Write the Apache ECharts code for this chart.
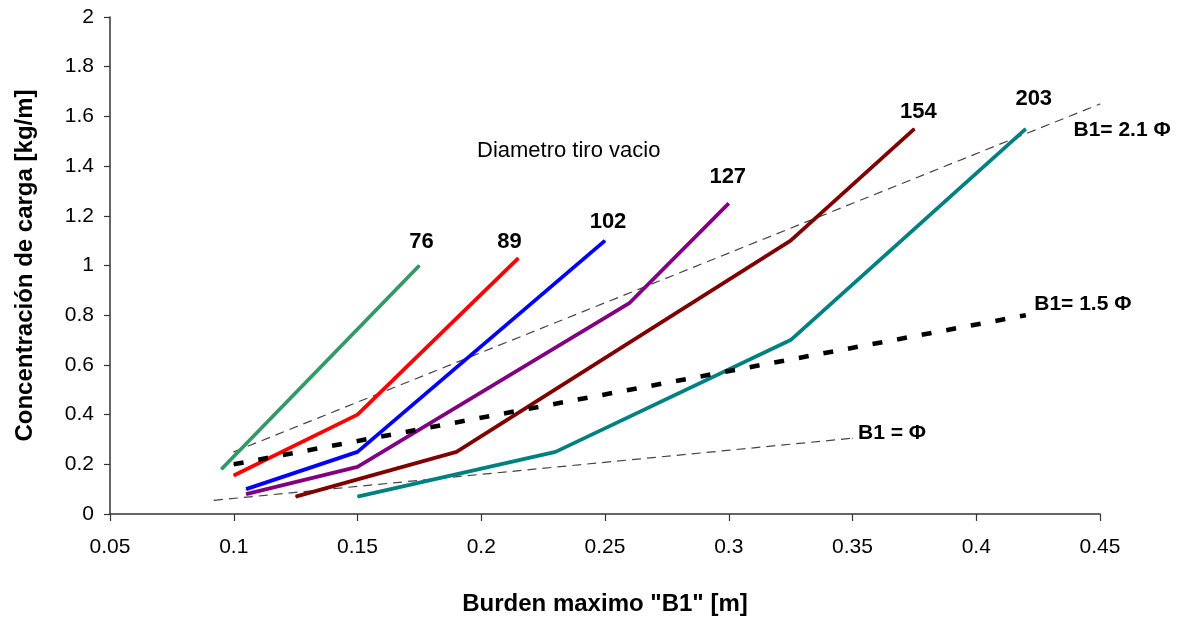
<!DOCTYPE html>
<html>
<head>
    <meta charset="UTF-8">
    <title></title>
    <style type="text/css">
        html, body { margin: 0; padding: 0; background: #fff; }
        #main1 { width: 1188px; height: 617px; }
    </style>
</head>
<body>
<div id="main1"></div>
<script type="text/javascript" src="https://cdn.jsdelivr.net/npm/echarts@6/dist/echarts.min.js"></script>
<script type="text/javascript">
    // diametro tiro vacio (mm): burden [m] vs concentracion [kg/m]
    var x76 = [0.095, 0.175];
    var y76 = [0.18, 1.0];
    var x89 = [0.1, 0.15, 0.215];
    var y89 = [0.155, 0.4, 1.03];
    var x102 = [0.105, 0.15, 0.25];
    var y102 = [0.1, 0.25, 1.1];
    var x127 = [0.105, 0.15, 0.26, 0.3];
    var y127 = [0.08, 0.19, 0.85, 1.25];
    var x154 = [0.125, 0.19, 0.325, 0.375];
    var y154 = [0.07, 0.25, 1.1, 1.55];
    var x203 = [0.15, 0.23, 0.325, 0.42];
    var y203 = [0.07, 0.25, 0.7, 1.55];

    // rectas B1 = k * diametro
    var xB21 = [0.1, 0.45];
    var yB21 = [0.25, 1.65];
    var xB15 = [0.1, 0.42];
    var yB15 = [0.2, 0.8];
    var xB1 = [0.092, 0.35];
    var yB1 = [0.055, 0.305];

    var xTicks = [0.05, 0.1, 0.15, 0.2, 0.25, 0.3, 0.35, 0.4, 0.45];
    var yTicks = [0, 0.2, 0.4, 0.6, 0.8, 1, 1.2, 1.4, 1.6, 1.8, 2];

    var FONT = '"Liberation Sans", Arial, sans-serif';

    // puntos de la serie, con etiqueta solo en el ultimo
    function pts(xs, ys, lbl) {
        var out = [];
        for (var i = 0; i < xs.length; i++) {
            var p = { value: [xs[i], ys[i]] };
            if (i == xs.length - 1) p.label = lbl;
            out.push(p);
        }
        return out;
    }

    function numLabel(dx, dy) {
        return {
            show: true, position: 'top', distance: 5, offset: [dx, dy],
            formatter: '{a}', color: '#000', fontWeight: 'bold', fontSize: 22, fontFamily: FONT
        };
    }

    function refLabel(dx, dy) {
        return {
            show: true, position: 'right', distance: 5, offset: [dx, dy],
            formatter: '{a}', color: '#000', fontWeight: 'bold', fontSize: 21, fontFamily: FONT
        };
    }

    function curve(name, xs, ys, color, lbl) {
        return {
            name: name, type: 'line', data: pts(xs, ys, lbl),
            symbol: 'circle', symbolSize: 1, showSymbol: true,
            itemStyle: { color: color },
            lineStyle: { color: color, width: 3.8 },
            z: 3
        };
    }

    function thinRef(name, xs, ys, lbl) {
        return {
            name: name, type: 'line', data: pts(xs, ys, lbl),
            symbol: 'circle', symbolSize: 1, showSymbol: true,
            itemStyle: { color: '#444' },
            lineStyle: { color: '#444', width: 1.2, type: [9, 6] },
            z: 2
        };
    }

    var myChart1 = echarts.init(document.getElementById('main1'));
    var option1 = {
        animation: false,
        grid: { left: 110, right: 88, top: 17, bottom: 103, outerBoundsMode: 'none', containLabel: false },
        xAxis: {
            type: 'value', min: xTicks[0], max: xTicks[xTicks.length - 1], interval: 0.05,
            name: 'Burden maximo "B1" [m]', nameLocation: 'middle', nameGap: 78,
            nameTextStyle: { fontSize: 24, fontWeight: 'bold', color: '#000', fontFamily: FONT },
            axisLine: { show: true, onZero: false, lineStyle: { color: '#333', width: 1.5 } },
            axisTick: { show: true, inside: false, length: 7, lineStyle: { color: '#333', width: 1.2 } },
            axisLabel: { margin: 23, fontSize: 21, color: '#000', fontFamily: FONT },
            splitLine: { show: false }
        },
        yAxis: {
            type: 'value', min: yTicks[0], max: yTicks[yTicks.length - 1], interval: 0.2,
            name: 'Concentración de carga [kg/m]', nameLocation: 'middle', nameGap: 73,
            nameTextStyle: { fontSize: 24, fontWeight: 'bold', color: '#000', fontFamily: FONT },
            axisLine: { show: true, lineStyle: { color: '#333', width: 1.5 } },
            axisTick: { show: true, inside: false, length: 6, lineStyle: { color: '#333', width: 1.2 } },
            axisLabel: { margin: 16, fontSize: 21, color: '#000', fontFamily: FONT },
            splitLine: { show: false }
        },
        graphic: [{
            type: 'text', left: 477, top: 140,
            style: { text: 'Diametro tiro vacio', fontSize: 22, fontFamily: FONT, fill: '#000' }
        }],
        series: [
            thinRef('B1= 2.1 Φ', xB21, yB21, refLabel(-32, 26)),
            thinRef('B1 = Φ', xB1, yB1, refLabel(0, -5)),
            curve('76', x76, y76, '#339966', numLabel(2, -7)),
            curve('89', x89, y89, '#ff0000', numLabel(-9, 0)),
            curve('102', x102, y102, '#0000ff', numLabel(3, -2)),
            curve('127', x127, y127, '#800080', numLabel(-1, -10)),
            curve('154', x154, y154, '#800000', numLabel(4, 0)),
            curve('203', x203, y203, '#008080', numLabel(8, -13)),
            {
                name: 'B1= 1.5 Φ', type: 'line', data: pts(xB15, yB15, refLabel(3, -11)),
                symbol: 'circle', symbolSize: 1, showSymbol: true,
                itemStyle: { color: '#000' },
                lineStyle: { color: '#000', width: 4.5, type: [10, 15] },
                z: 4
            }
        ]
    };
    myChart1.setOption(option1);
</script>
</body>
</html>
